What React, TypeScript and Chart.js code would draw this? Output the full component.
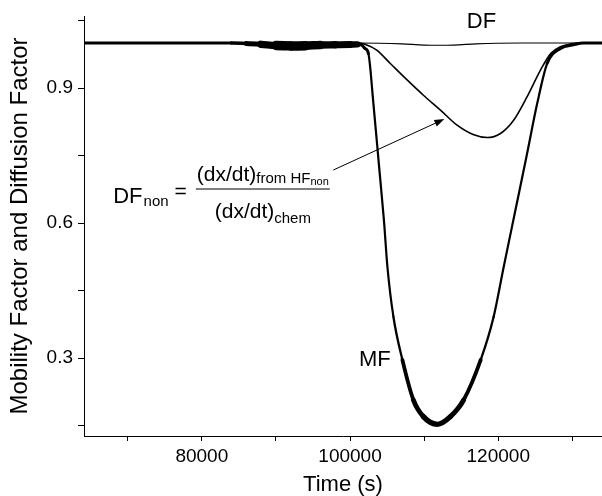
import React, { useEffect, useRef } from "react";
import { Chart, registerables } from "chart.js";

Chart.register(...registerables);

const FONT = "'Liberation Sans', Arial, Helvetica, sans-serif";

// ---- data ----
const MF_X = [64100, 84000, 86000, 88000, 90000, 92000, 94000, 96000, 98000, 100000, 101000, 101600, 102000, 102474, 103150, 103960, 104569, 105042, 105853, 107069, 108550, 109900, 111790, 113540, 115330, 117630, 119380, 120740, 122320, 123900, 125260, 126610, 128400, 130160, 131500, 134000];
const MF_Y = [1, 1, 0.999, 0.997, 0.9945, 0.9935, 0.994, 0.9955, 0.996, 0.9965, 0.997, 0.995, 0.988, 0.977, 0.866, 0.718, 0.607, 0.503, 0.392, 0.296, 0.207, 0.17, 0.153, 0.17, 0.207, 0.296, 0.392, 0.503, 0.629, 0.755, 0.866, 0.955, 0.988, 0.996, 1, 1];

const DF_X = [64100, 101000, 104000, 107000, 110000, 112000, 114000, 117000, 120000, 123000, 134000];
const DF_Y = [1, 1, 0.9995, 0.998, 0.9955, 0.995, 0.9955, 0.998, 0.9995, 1, 1];

const DFNON_X = [64100, 101000, 102000, 103600, 105400, 107700, 109900, 112200, 114400, 116700, 118500, 120300, 122100, 123900, 125700, 127100, 128400, 129800, 131000, 134000];
const DFNON_Y = [1, 1, 0.997, 0.984, 0.955, 0.918, 0.884, 0.851, 0.818, 0.796, 0.79, 0.799, 0.829, 0.881, 0.94, 0.977, 0.992, 0.998, 1, 1];

const X_MIN = 64100;
const X_MAX = 134000;
const X_TICKS = [70000, 80000, 90000, 100000, 110000, 120000, 130000];
const X_LABELS = [80000, 100000, 120000];
const Y_MIN = 0.127;
const Y_MAX = 1.06;
const Y_TICKS = [0.15, 0.3, 0.45, 0.6, 0.75, 0.9, 1.05];
const Y_LABELS = [0.3, 0.6, 0.9];

const X_TITLE = "Time (s)";
const Y_TITLE = "Mobility Factor and Diffusion Factor";

// annotation anchors in data units
const CURVE_LABELS = [
  { text: "DF", x: 117730, y: 1.047 },
  { text: "MF", x: 103340, y: 0.2956 },
];
const ARROW_FROM = { x: 97740, y: 0.7178 };
const ARROW_TO = { x: 112730, y: 0.8311 };
const FORMULA_AT = { x: 79190, y: 0.6756 };

const pts = (xs: number[], ys: number[]) => xs.map((x, i) => ({ x, y: ys[i] }));

function mfWidth(ctx: any): number {
  const y0 = ctx.p0.parsed.y;
  const y1 = ctx.p1.parsed.y;
  const x0 = ctx.p0.parsed.x;
  const ym = (y0 + y1) / 2;
  if (x0 < 101000) return 3 + (1 - ym) * 1050;
  if (ym < 0.35) return 2.2 + Math.min(1, (0.35 - ym) / 0.2) * 3.3;
  if (ym < 0.97) return 2.2;
  return 3;
}

const annotations = {
  id: "annotations",
  afterDatasetsDraw(chart: any) {
    const { ctx } = chart;
    const xs = chart.scales.x;
    const ys = chart.scales.y;
    const px = (v: number) => xs.getPixelForValue(v);
    const py = (v: number) => ys.getPixelForValue(v);
    ctx.save();
    ctx.fillStyle = "#000";
    ctx.strokeStyle = "#000";

    // curve labels
    ctx.font = `22px ${FONT}`;
    ctx.textAlign = "center";
    ctx.textBaseline = "middle";
    for (const l of CURVE_LABELS) ctx.fillText(l.text, px(l.x), py(l.y));

    // arrow
    const ax0 = px(ARROW_FROM.x), ay0 = py(ARROW_FROM.y);
    const ax1 = px(ARROW_TO.x), ay1 = py(ARROW_TO.y);
    const ang = Math.atan2(ay1 - ay0, ax1 - ax0);
    const hl = 10, hw = 3.5;
    ctx.lineWidth = 1;
    ctx.beginPath();
    ctx.moveTo(ax0, ay0);
    ctx.lineTo(ax1 - Math.cos(ang) * hl * 0.8, ay1 - Math.sin(ang) * hl * 0.8);
    ctx.stroke();
    ctx.beginPath();
    ctx.moveTo(ax1, ay1);
    ctx.lineTo(ax1 - Math.cos(ang) * hl - Math.sin(ang) * hw, ay1 - Math.sin(ang) * hl + Math.cos(ang) * hw);
    ctx.lineTo(ax1 - Math.cos(ang) * hl + Math.sin(ang) * hw, ay1 - Math.sin(ang) * hl - Math.cos(ang) * hw);
    ctx.closePath();
    ctx.fill();

    // formula
    const bx = px(FORMULA_AT.x);
    const by = py(FORMULA_AT.y);
    const w = (t: string, s: number) => {
      ctx.font = `${s}px ${FONT}`;
      return ctx.measureText(t).width;
    };
    const put = (t: string, s: number, x: number, y: number) => {
      ctx.font = `${s}px ${FONT}`;
      ctx.fillText(t, x, y);
    };
    ctx.textAlign = "left";
    ctx.textBaseline = "alphabetic";
    const MAIN = 21, SUB = 15, SUB2 = 11;
    const numW = w("(dx/dt)", MAIN) + w("from HF", SUB) + w("non", SUB2);
    const denW = w("(dx/dt)", MAIN) + w("chem", SUB);
    const barW = Math.max(numW, denW) + 2;
    ctx.fillRect(bx, Math.round(by) - 0.5, barW, 1);
    // numerator
    let nx = bx + (barW - numW) / 2;
    put("(dx/dt)", MAIN, nx, by - 8.5);
    nx += w("(dx/dt)", MAIN);
    put("from HF", SUB, nx, by - 6.5);
    nx += w("from HF", SUB);
    put("non", SUB2, nx, by - 4);
    // denominator
    let dx = bx + (barW - denW) / 2;
    put("(dx/dt)", MAIN, dx, by + 28.5);
    dx += w("(dx/dt)", MAIN);
    put("chem", SUB, dx, by + 34);
    // left side
    const eqW = w("=", MAIN);
    const eqX = bx - 9 - eqW;
    put("=", MAIN, eqX, by + 8.5);
    const nonW = w("non", SUB);
    const nonX = eqX - 6 - nonW;
    put("non", SUB, nonX, by + 17);
    const dfW = w("DF", MAIN + 1);
    put("DF", MAIN + 1, nonX - 1 - dfW, by + 14);

    ctx.restore();
  },
};

const near = (a: number, list: number[]) => list.some((b) => Math.abs(a - b) < 1e-6 * Math.max(1, Math.abs(b)));

export default function App() {
  const ref = useRef<HTMLCanvasElement | null>(null);
  useEffect(() => {
    document.body.style.margin = "0";
    const canvas = ref.current;
    if (!canvas) return;
    Chart.defaults.font.family = FONT;
    Chart.defaults.color = "#000";
    const chart = new Chart(canvas, {
      type: "line",
      data: {
        datasets: [
          {
            label: "MF",
            data: pts(MF_X, MF_Y),
            borderColor: "#000",
            borderWidth: 3,
            borderCapStyle: "round",
            borderJoinStyle: "round",
            pointRadius: 0,
            cubicInterpolationMode: "monotone",
            segment: { borderWidth: mfWidth },
          } as any,
          {
            label: "DF",
            data: pts(DF_X, DF_Y),
            borderColor: "#000",
            borderWidth: 1.2,
            pointRadius: 0,
            cubicInterpolationMode: "monotone",
          },
          {
            label: "DFnon",
            data: pts(DFNON_X, DFNON_Y),
            borderColor: "#000",
            borderWidth: 1.6,
            pointRadius: 0,
            cubicInterpolationMode: "monotone",
          },
        ],
      },
      options: {
        animation: false,
        responsive: false,
        devicePixelRatio: 1,
        events: [],
        layout: { padding: { top: 16, right: 0, bottom: 0, left: 0 } },
        plugins: { legend: { display: false }, tooltip: { enabled: false } },
        scales: {
          x: {
            type: "linear",
            min: X_MIN,
            max: X_MAX,
            afterBuildTicks: (s: any) => {
              s.ticks = X_TICKS.map((value) => ({ value }));
            },
            afterFit: (s: any) => {
              s.height = 60;
              s.paddingLeft = 0;
              s.paddingRight = 0;
            },
            border: { display: true, color: "#000", width: 1 },
            grid: { display: true, drawOnChartArea: false, drawTicks: true, tickLength: 5, tickColor: "#000", lineWidth: 1 },
            ticks: {
              autoSkip: false,
              maxRotation: 0,
              minRotation: 0,
              padding: 4,
              color: "#000",
              font: { size: 19, family: FONT },
              callback: (v: any) => (near(Number(v), X_LABELS) ? String(v) : ""),
            },
            title: { display: true, text: X_TITLE, color: "#000", font: { size: 22, lineHeight: 1, family: FONT }, padding: { top: 0, bottom: 0 } },
          },
          y: {
            type: "linear",
            min: Y_MIN,
            max: Y_MAX,
            afterBuildTicks: (s: any) => {
              s.ticks = Y_TICKS.map((value) => ({ value }));
            },
            afterFit: (s: any) => {
              s.width = 84;
              s.paddingTop = 0;
              s.paddingBottom = 0;
            },
            border: { display: true, color: "#000", width: 1 },
            grid: { display: true, drawOnChartArea: false, drawTicks: true, tickLength: 6, tickColor: "#000", lineWidth: 1 },
            ticks: {
              autoSkip: false,
              padding: 5,
              color: "#000",
              font: { size: 19, family: FONT },
              callback: (v: any) => (near(Number(v), Y_LABELS) ? Number(v).toFixed(1) : ""),
            },
            title: { display: true, text: Y_TITLE, color: "#000", font: { size: 24, lineHeight: 1, family: FONT }, padding: { top: 8, bottom: 0 } },
          },
        },
      } as any,
      plugins: [annotations],
    });
    return () => chart.destroy();
  }, []);
  return (
    <div style={{ width: 602, height: 496, background: "#fff" }}>
      <canvas ref={ref} width={602} height={496} style={{ display: "block", width: 602, height: 496 }} />
    </div>
  );
}
